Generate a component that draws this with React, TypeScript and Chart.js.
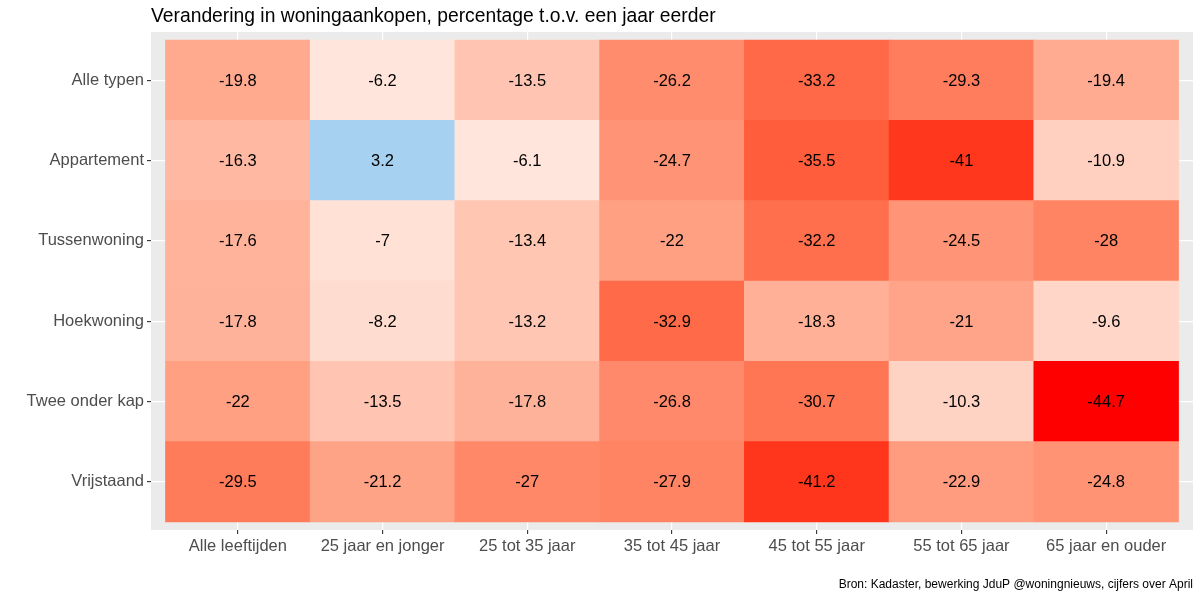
import React, { useEffect, useRef } from "react";
import { Chart, registerables } from "chart.js";

Chart.register(...registerables);

const ageGroups = [
  "Alle leeftijden",
  "25 jaar en jonger",
  "25 tot 35 jaar",
  "35 tot 45 jaar",
  "45 tot 55 jaar",
  "55 tot 65 jaar",
  "65 jaar en ouder",
];

const housingTypes = [
  "Alle typen",
  "Appartement",
  "Tussenwoning",
  "Hoekwoning",
  "Twee onder kap",
  "Vrijstaand",
];

const alleTypen = [-19.8, -6.2, -13.5, -26.2, -33.2, -29.3, -19.4];
const appartement = [-16.3, 3.2, -6.1, -24.7, -35.5, -41, -10.9];
const tussenwoning = [-17.6, -7, -13.4, -22, -32.2, -24.5, -28];
const hoekwoning = [-17.8, -8.2, -13.2, -32.9, -18.3, -21, -9.6];
const tweeOnderKap = [-22, -13.5, -17.8, -26.8, -30.7, -10.3, -44.7];
const vrijstaand = [-29.5, -21.2, -27, -27.9, -41.2, -22.9, -24.8];

const rows = [alleTypen, appartement, tussenwoning, hoekwoning, tweeOnderKap, vrijstaand];

const TITLE = "Verandering in woningaankopen, percentage t.o.v. een jaar eerder";
const CAPTION = "Bron: Kadaster, bewerking JduP @woningnieuws, cijfers over April";

const FONT = "'Liberation Sans', Arial, Helvetica, sans-serif";

// ---- colour helpers (Lab interpolation like ggplot) ----
function toLin(c: number) {
  c /= 255;
  return c <= 0.04045 ? c / 12.92 : Math.pow((c + 0.055) / 1.055, 2.4);
}
function fromLin(c: number) {
  const v = c <= 0.0031308 ? 12.92 * c : 1.055 * Math.pow(c, 1 / 2.4) - 0.055;
  return Math.max(0, Math.min(255, Math.round(v * 255)));
}
const Xn = 0.95047, Yn = 1.0, Zn = 1.08883;
function f(t: number) {
  return t > 0.008856 ? Math.cbrt(t) : 7.787 * t + 16 / 116;
}
function finv(t: number) {
  return t > 0.206893 ? t * t * t : (t - 16 / 116) / 7.787;
}
function rgbToLab(rgb: number[]) {
  const r = toLin(rgb[0]), g = toLin(rgb[1]), b = toLin(rgb[2]);
  const x = (r * 0.4124 + g * 0.3576 + b * 0.1805) / Xn;
  const y = (r * 0.2126 + g * 0.7152 + b * 0.0722) / Yn;
  const z = (r * 0.0193 + g * 0.1192 + b * 0.9505) / Zn;
  const fx = f(x), fy = f(y), fz = f(z);
  return [116 * fy - 16, 500 * (fx - fy), 200 * (fy - fz)];
}
function labToRgb(lab: number[]) {
  const fy = (lab[0] + 16) / 116;
  const fx = fy + lab[1] / 500;
  const fz = fy - lab[2] / 200;
  const x = finv(fx) * Xn, y = finv(fy) * Yn, z = finv(fz) * Zn;
  const r = x * 3.2406 + y * -1.5372 + z * -0.4986;
  const g = x * -0.9689 + y * 1.8758 + z * 0.0415;
  const b = x * 0.0557 + y * -0.204 + z * 1.057;
  return [fromLin(r), fromLin(g), fromLin(b)];
}
const WHITE_LAB = rgbToLab([255, 255, 255]);
const RED_LAB = rgbToLab([255, 0, 0]);
const maxAbs = Math.max(...rows.flat().map((v) => Math.abs(v)));
function fillFor(v: number) {
  if (v > 0) return "#A6D1F1";
  const t = Math.min(1, -v / maxAbs);
  const lab = WHITE_LAB.map((w, i) => w + (RED_LAB[i] - w) * t);
  const [r, g, b] = labToRgb(lab);
  return `rgb(${r},${g},${b})`;
}

const heatPlugin = {
  id: "heatDecor",
  beforeDraw(chart: any) {
    const { ctx, chartArea: a } = chart;
    ctx.save();
    ctx.fillStyle = "#EBEBEB";
    ctx.fillRect(a.left, a.top, a.right - a.left, a.bottom - a.top);
    ctx.restore();
  },
  afterDatasetsDraw(chart: any) {
    const { ctx } = chart;
    const meta = chart.getDatasetMeta(0);
    const ds = chart.data.datasets[0];
    ctx.save();
    ctx.fillStyle = "#000000";
    ctx.font = `16.5px ${FONT}`;
    ctx.textAlign = "center";
    ctx.textBaseline = "middle";
    meta.data.forEach((el: any, i: number) => {
      const p = ds.data[i];
      const cy = (el.y + el.base) / 2;
      ctx.fillText(String(p.v), el.x, cy + 1);
    });
    ctx.restore();
  },
  afterDraw(chart: any) {
    const { ctx, chartArea: a } = chart;
    ctx.save();
    ctx.fillStyle = "#000000";
    ctx.font = `19.3px ${FONT}`;
    ctx.textAlign = "left";
    ctx.textBaseline = "alphabetic";
    ctx.fillText(TITLE, a.left, 22);
    ctx.font = `12px ${FONT}`;
    ctx.textAlign = "right";
    ctx.fillText(CAPTION, a.right, 588);
    ctx.restore();
  },
};

export default function App() {
  const ref = useRef<HTMLCanvasElement | null>(null);

  useEffect(() => {
    if (!ref.current) return;
    const data = rows.flatMap((vals, r) =>
      vals.map((v, c) => ({ x: c, y: [r - 0.5, r + 0.5], v }))
    );
    const colors = data.map((d) => fillFor(d.v));

    const chart = new Chart(ref.current, {
      type: "bar",
      data: {
        datasets: [
          {
            data: data as any,
            backgroundColor: colors,
            borderWidth: 0,
            barPercentage: 1,
            categoryPercentage: 1,
          },
        ],
      },
      options: {
        animation: false,
        responsive: false,
        maintainAspectRatio: false,
        events: [],
        layout: { padding: { left: 0, right: 7, top: 32, bottom: 30 } },
        plugins: {
          legend: { display: false },
          title: { display: false },
          tooltip: { enabled: false },
        },
        scales: {
          x: {
            type: "linear",
            offset: false,
            min: -0.6,
            max: 6.6,
            afterBuildTicks: (s: any) => {
              s.ticks = ageGroups.map((_, i) => ({ value: i }));
            },
            afterFit: (s: any) => {
              s.height = 40;
            },
            ticks: {
              callback: (_v: any, i: number) => ageGroups[i],
              color: "#4D4D4D",
              font: { family: FONT, size: 16.5 },
              padding: 3,
              maxRotation: 0,
              autoSkip: false,
            },
            grid: {
              offset: false,
              color: "#FFFFFF",
              lineWidth: 1.2,
              tickColor: "#333333",
              tickLength: 4,
              tickWidth: 1.1,
            },
            border: { display: false },
          },
          y: {
            type: "linear",
            reverse: true,
            offset: false,
            min: -0.6,
            max: 5.6,
            afterBuildTicks: (s: any) => {
              s.ticks = housingTypes.map((_, i) => ({ value: i }));
            },
            afterFit: (s: any) => {
              s.width = 151;
            },
            ticks: {
              callback: (_v: any, i: number) => housingTypes[i],
              color: "#4D4D4D",
              font: { family: FONT, size: 16.5 },
              padding: 3,
              autoSkip: false,
            },
            grid: {
              offset: false,
              color: "#FFFFFF",
              lineWidth: 1.2,
              tickColor: "#333333",
              tickLength: 4,
              tickWidth: 1.1,
            },
            border: { display: false },
          },
        },
      } as any,
      plugins: [heatPlugin],
    });
    return () => chart.destroy();
  }, []);

  return (
    <div style={{ position: "absolute", left: 0, top: 0, width: 1200, height: 600, background: "#FFFFFF" }}>
      <canvas ref={ref} width={1200} height={600} style={{ width: 1200, height: 600 }} />
    </div>
  );
}
